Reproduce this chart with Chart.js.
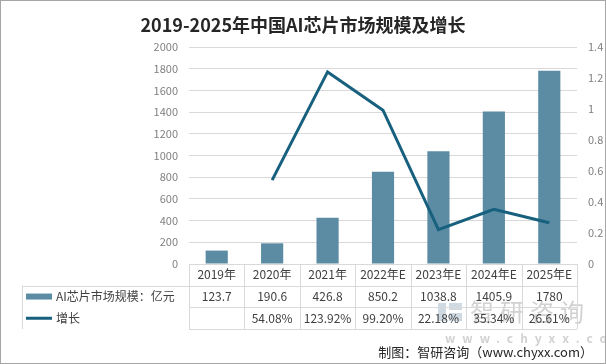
<!DOCTYPE html>
<html>
<head>
<meta charset="utf-8">
<script src="https://cdn.jsdelivr.net/npm/chart.js@4"></script>
<style>
  html, body { margin: 0; padding: 0; background: #fff; }
  #wrap { width: 606px; height: 364px; position: relative; }
</style>
</head>
<body>
<div id="wrap"><canvas id="aiChart" width="606" height="364"></canvas></div>
<script>
const years = ['2019年', '2020年', '2021年', '2022年E', '2023年E', '2024年E', '2025年E'];
const marketSize = [123.7, 190.6, 426.8, 850.2, 1038.8, 1405.9, 1780];
const growth = [null, 0.5408, 1.2392, 0.9920, 0.2218, 0.3534, 0.2661];
const sizeLabel = 'AI芯片市场规模：亿元';
const growthLabel = '增长';
const titleText = '2019-2025年中国AI芯片市场规模及增长';
const sourceText = '制图：智研咨询（www.chyxx.com）';

const barColor = '#5b8ca4';
const lineColor = '#17607e';
const gridColor = '#d9d9d9';
const textColor = '#404040';
const font = '"Noto Sans CJK SC", "Noto Sans", sans-serif';

// 表格、标题、水印都画在画布上
const extras = {
    id: 'extras',
    beforeDraw(chart) {
        const c = chart.ctx;
        c.save();
        c.fillStyle = '#fff';
        c.fillRect(0, 0, chart.width, chart.height);
        // 水印
        c.fillStyle = 'rgba(120,150,175,0.35)';
        c.fillRect(438, 303, 8, 18);
        c.fillRect(449, 303, 13, 7);
        c.fillRect(449, 313, 13, 8);
        c.fillStyle = 'rgba(140,140,140,0.4)';
        c.font = '24px ' + font;
        c.textBaseline = 'middle';
        c.textAlign = 'left';
        c.letterSpacing = '6px';
        c.fillText('智研咨询', 470, 312);
        c.font = 'bold 12px ' + font;
        c.letterSpacing = '7px';
        c.fillText('www.chyxx.com', 445, 338);
        c.letterSpacing = '0px';
        c.restore();
    },
    afterDraw(chart) {
        const c = chart.ctx;
        const x = chart.scales.x;
        const area = chart.chartArea;
        const colW = area.width / years.length;
        const top = area.bottom;
        const rowH = 21.7;
        const left = 22;

        c.save();
        // 表格线
        c.strokeStyle = gridColor;
        c.lineWidth = 1;
        c.beginPath();
        for (let r = 1; r <= 3; r++) {
            const yy = Math.round(top + rowH * r) + 0.5;
            c.moveTo(r === 1 ? left : area.left, yy);
            c.lineTo(area.right, yy);
        }
        for (let i = 0; i <= years.length; i++) {
            const xx = Math.round(area.left + colW * i) + 0.5;
            c.moveTo(xx, top);
            c.lineTo(xx, top + rowH * 3);
        }
        c.moveTo(left + 0.5, top + rowH);
        c.lineTo(left + 0.5, top + rowH * 3);
        c.stroke();

        c.fillStyle = textColor;
        c.font = '12px ' + font;
        c.textAlign = 'center';
        c.textBaseline = 'middle';
        years.forEach((y, i) => {
            const cx = x.getPixelForValue(i);
            c.fillText(y, cx, top + rowH * 0.5);
            c.fillText(String(marketSize[i]), cx, top + rowH * 1.5);
            if (growth[i] !== null) {
                c.fillText((growth[i] * 100).toFixed(2) + '%', cx, top + rowH * 2.5);
            }
        });

        // 图例
        c.fillStyle = barColor;
        c.fillRect(26, top + rowH * 1.5 - 3, 26, 6);
        c.strokeStyle = lineColor;
        c.lineWidth = 3;
        c.beginPath();
        c.moveTo(26, top + rowH * 2.5);
        c.lineTo(52, top + rowH * 2.5);
        c.stroke();
        c.fillStyle = textColor;
        c.textAlign = 'left';
        c.fillText(sizeLabel, 56, top + rowH * 1.5);
        c.fillText(growthLabel, 56, top + rowH * 2.5);

        // 标题
        c.fillStyle = '#262626';
        c.font = 'bold 18px ' + font;
        c.textAlign = 'center';
        c.fillText(titleText, 303, 25);

        // 来源
        c.font = '13px ' + font;
        c.textAlign = 'right';
        c.fillText(sourceText, 593, 352);

        // 外框
        c.strokeStyle = '#a6a6a6';
        c.lineWidth = 1;
        c.strokeRect(0.5, 0.5, chart.width - 1, chart.height - 1);
        c.restore();
    }
};

const ctx = document.getElementById('aiChart').getContext('2d');
const chart = new Chart(ctx, {
    type: 'bar',
    data: {
        labels: years,
        datasets: [{
            type: 'line',
            label: growthLabel,
            data: growth,
            yAxisID: 'y1',
            borderColor: lineColor,
            borderWidth: 3,
            pointRadius: 0,
            tension: 0,
            order: 0
        }, {
            label: sizeLabel,
            data: marketSize,
            yAxisID: 'y',
            backgroundColor: barColor,
            barPercentage: 0.4,
            categoryPercentage: 1,
            order: 1
        }]
    },
    options: {
        responsive: false,
        animation: false,
        layout: {
            padding: { top: 47, bottom: 100, left: 0, right: 0 }
        },
        plugins: {
            legend: { display: false },
            title: { display: false },
            tooltip: { enabled: false }
        },
        scales: {
            x: {
                display: false
            },
            y: {
                position: 'left',
                min: 0,
                max: 2000,
                ticks: {
                    stepSize: 200,
                    padding: 11,
                    color: '#808080',
                    font: { size: 11, family: font },
                    callback: v => String(v)
                },
                grid: { color: gridColor, drawTicks: false },
                border: { display: false },
                afterFit(s) { s.width = 189; }
            },
            y1: {
                position: 'right',
                min: 0,
                max: 1.4,
                ticks: {
                    stepSize: 0.2,
                    padding: 11,
                    color: '#808080',
                    font: { size: 11, family: font },
                    callback: v => String(Number(v.toFixed(1)))
                },
                grid: { display: false, drawTicks: false },
                border: { display: false },
                afterFit(s) { s.width = 29; }
            }
        }
    },
    plugins: [extras]
});
</script>
</body>
</html>
